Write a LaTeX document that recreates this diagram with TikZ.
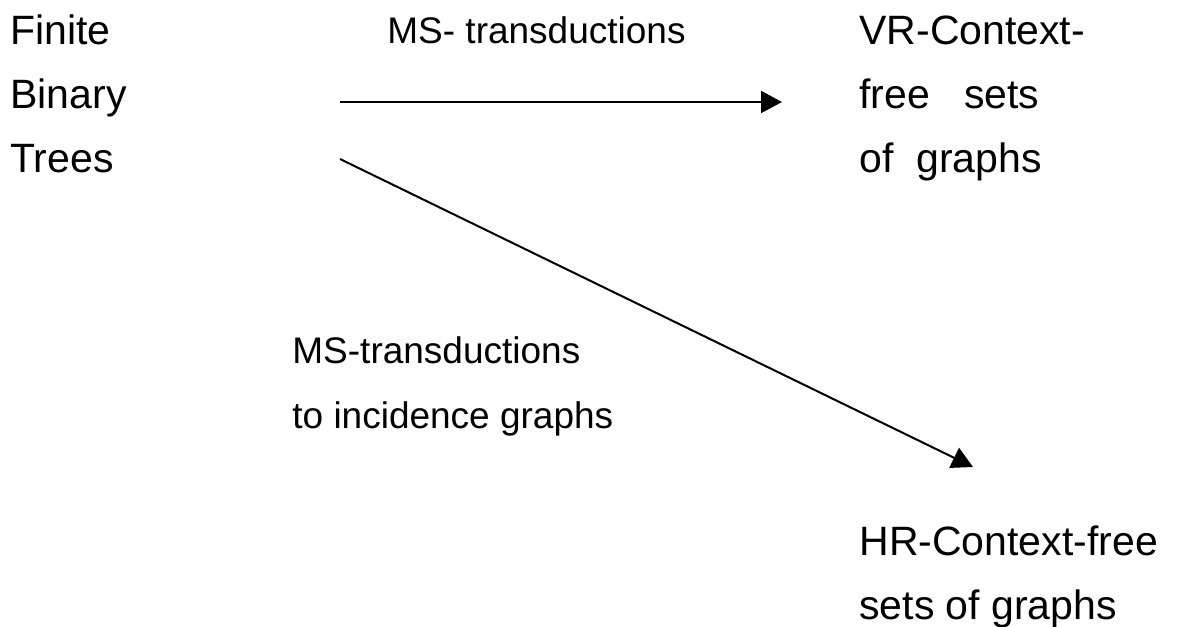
\documentclass[tikz,border=0pt]{standalone}
\usepackage{fontspec}
\setmainfont{Liberation Sans}
\usetikzlibrary{arrows.meta}

\begin{document}
\begin{tikzpicture}[x=0.5pt, y=-0.5pt]
    % Define styles
    \tikzstyle{class} = [anchor=base west, inner sep=0pt, align=left, font=\fontsize{20.5}{32}\selectfont]
    \tikzstyle{label} = [anchor=base west, inner sep=0pt, align=left, font=\fontsize{18.5}{32.5}\selectfont]
    \tikzstyle{arrow} = [line width=1pt, -{Triangle[length=10.5pt, width=11pt]}]

    \useasboundingbox (0,0) rectangle (1179,627);

    % Classes of structures (placed by the baseline of their last line)
    \node [class] (trees) at (10,172) {Finite\\Binary\\Trees};
    \node [class] (vrcf) at (859,172) {VR-Context-\\free\ \ \ sets\\of\ \ graphs};
    \node [class] (hrcf) at (859,619) {HR-Context-free\\sets of graphs};

    % Transduction labels
    \node [label] (vrlabel) at (387,43) {MS- transductions};
    \node [label] (hrlabel) at (292,428) {MS-transductions\\to incidence graphs};

    % Arrow end points
    \coordinate (vrstart) at (340,102);
    \coordinate (vrend) at (782,102);
    \coordinate (hrstart) at (340,159);
    \coordinate (hrend) at (973,467);

    % Arrows
    \draw [arrow] (vrstart) -- (vrend);
    \draw [arrow] (hrstart) -- (hrend);
\end{tikzpicture}
\end{document}
